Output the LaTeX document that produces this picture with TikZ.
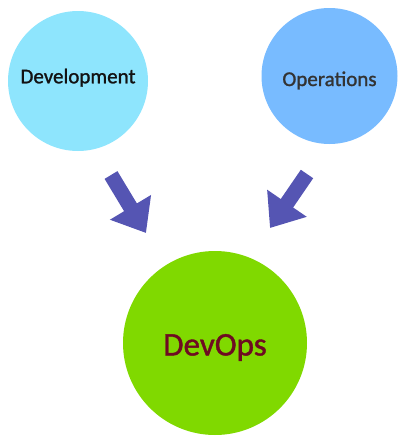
\documentclass[tikz,border=0pt]{standalone}
\usepackage{fontspec}
\setmainfont{Carlito}
\newfontfamily\bubblefont{Carlito}[FakeBold=1.2]
\usetikzlibrary{arrows.meta}
\definecolor{devblue}{HTML}{8EE5FD}
\definecolor{opsblue}{HTML}{78BBFF}
\definecolor{devopsgreen}{HTML}{80D900}
\definecolor{devopsred}{HTML}{6E0B22}
\definecolor{arrowblue}{HTML}{5555B3}
\tikzset{
  bubble/.style={circle, draw=none, inner sep=0pt, text depth=0pt},
  blockarrow/.style={arrowblue, line width=15pt,
    -{Triangle[length=30pt, width=46pt]}}
}

\begin{document}
\begin{tikzpicture}[x=1pt, y=-1pt]
\useasboundingbox (0,0) rectangle (409,442);
% the two sides
\node[bubble, fill=devblue, minimum size=140pt, text=black!93, text height=4.6pt,
  font=\bubblefont\fontsize{21}{24}\selectfont] (dev) at (78,81) {Development};
\node[bubble, fill=opsblue, minimum size=136pt, text=black!80, text height=20pt,
  font=\bubblefont\fontsize{21}{24}\selectfont] (ops) at (329.5,76) {Operations};
% the result
\node[bubble, fill=devopsgreen, minimum size=184pt, text=devopsred, text height=25pt,
  font=\bubblefont\fontsize{33}{36}\selectfont] (devops) at (215,343) {DevOps};
% arrows
\coordinate (devtail) at (111,175);
\coordinate (devtip) at (146,233);
\coordinate (opstail) at (307,174);
\coordinate (opstip) at (270,228);
\draw[blockarrow] (devtail) -- (devtip);
\draw[blockarrow] (opstail) -- (opstip);
\end{tikzpicture}
\end{document}
